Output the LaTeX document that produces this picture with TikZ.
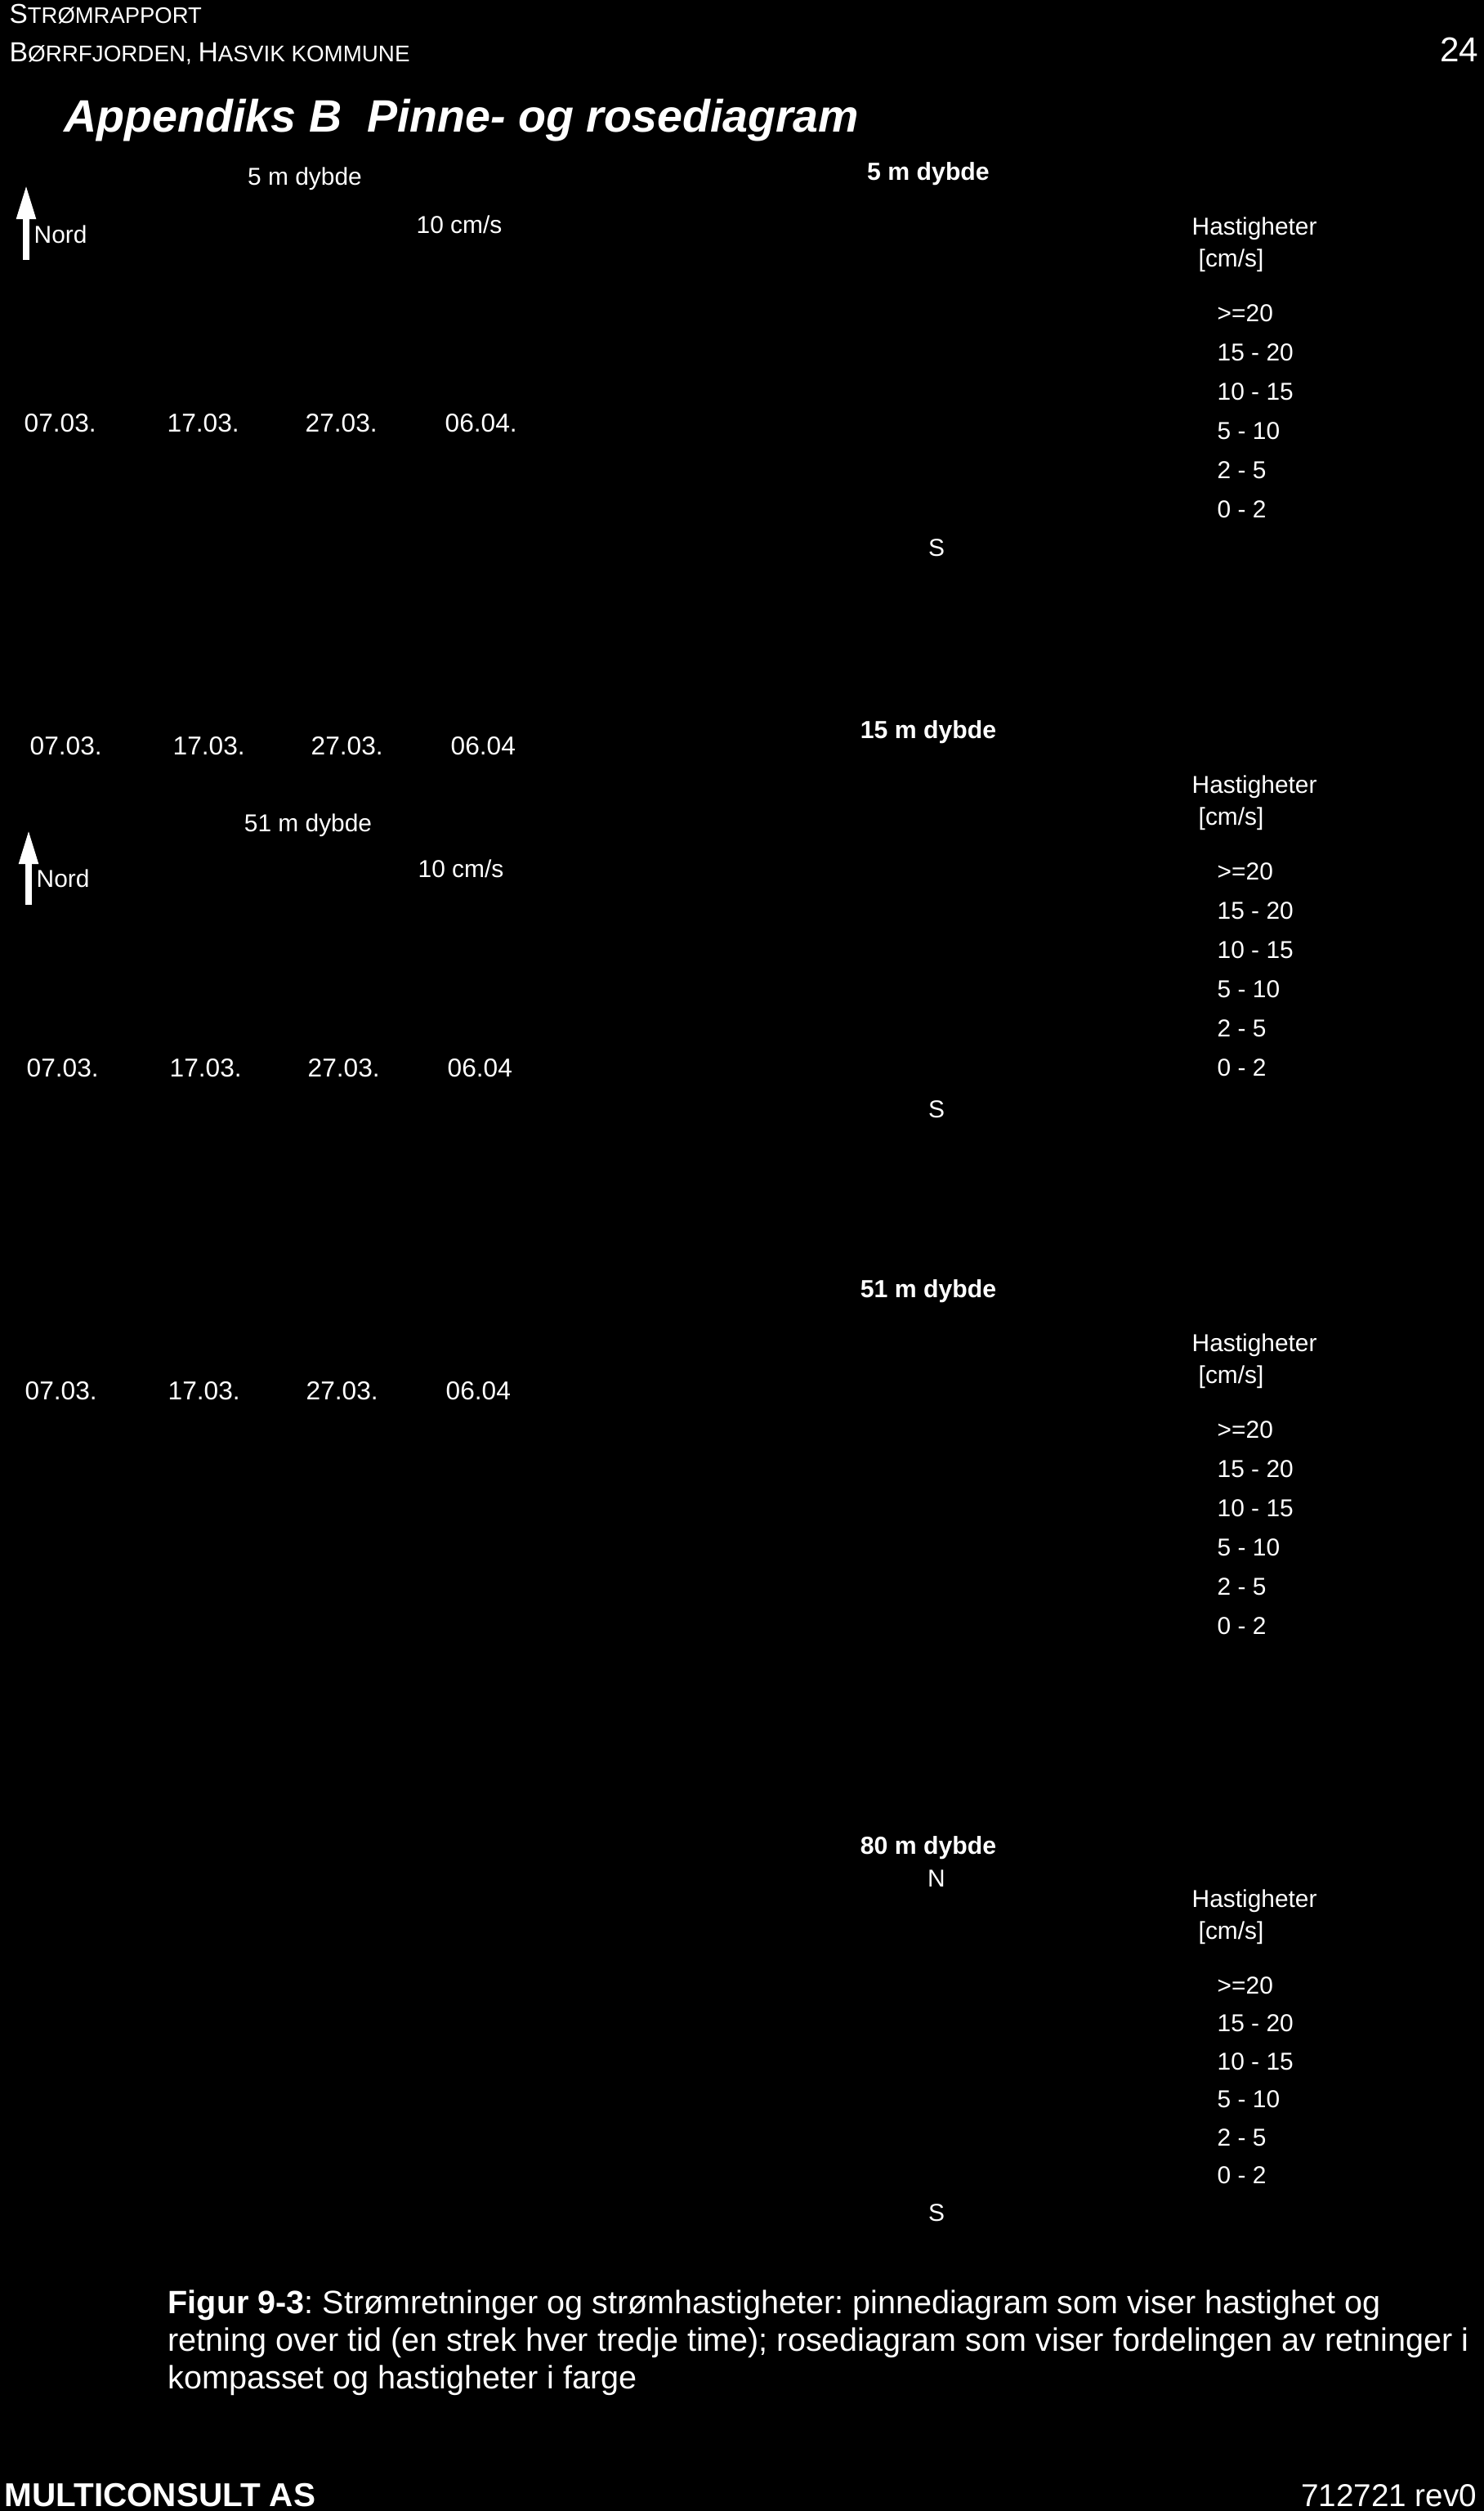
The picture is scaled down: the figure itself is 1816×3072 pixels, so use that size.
\documentclass[tikz,border=0pt]{standalone}
\usepackage{fontspec}
\setmainfont{Liberation Sans}
\usepackage{tikz}
\usetikzlibrary{arrows.meta,positioning}
\frenchspacing
\tikzset{%
	lbl/.style       = {text=white, inner sep=0pt, font=\fontsize{8.5}{10}\selectfont},
	datelbl/.style   = {lbl, anchor=base west, font=\fontsize{9}{11}\selectfont},
	rtitle/.style    = {lbl, anchor=base, font=\bfseries\fontsize{8.6}{10}\selectfont},
	leg/.style       = {lbl, anchor=base west},
	capline/.style   = {lbl, anchor=base west, font=\fontsize{11.25}{13}\selectfont},
	nordarrow/.style = {white, line width=0.08cm, -{Triangle[width=0.22cm,length=0.42cm]}},
}

\begin{document}
\begin{tikzpicture}[x=0.01cm, y=-0.01cm]
		\useasboundingbox (0,0) rectangle (1816,3072);
		\fill[black] (0,0) rectangle (1816,3072);
		
		% header
		\node[lbl, anchor=base west] (hdr1) at (11,28) {\fontsize{9.5}{11}\selectfont S\fontsize{7.8}{9}\selectfont TRØMRAPPORT};
		\node[lbl, anchor=base west] (hdr2) at (11,75) {\fontsize{9.6}{11}\selectfont B\fontsize{7.9}{9}\selectfont ØRRFJORDEN, \fontsize{9.6}{11}\selectfont H\fontsize{7.9}{9}\selectfont ASVIK KOMMUNE};
		\node[lbl, anchor=base east, font=\fontsize{12}{14}\selectfont] (pagenr) at (1810,75) {24};
		\node[lbl, anchor=base west, font=\bfseries\itshape\fontsize{15.8}{18}\selectfont] (apptitle) at (78,161) {Appendiks B\ \ Pinne- og rosediagram};
		
		% pinnediagram, left
		\node[lbl, anchor=base] (pd1) at (373,226) {5 m dybde};
		\node[lbl, anchor=base west] (scale1) at (509,285) {10 cm/s};
		\node[lbl, anchor=base west] (nord1) at (41,297) {Nord};
		\coordinate (nordtail1) at (32,318);
		\coordinate (nordtip1) at (32,226);
		\draw[nordarrow] (nordtail1) -- (nordtip1);
		
		\node[lbl, anchor=base] (pd2) at (377,1017) {51 m dybde};
		\node[lbl, anchor=base west] (scale2) at (511,1073) {10 cm/s};
		\node[lbl, anchor=base west] (nord2) at (44,1085) {Nord};
		\coordinate (nordtail2) at (35,1107);
		\coordinate (nordtip2) at (35,1015);
		\draw[nordarrow] (nordtail2) -- (nordtip2);
		
		\foreach \r/\yb/\xo/\lastd in {1/528/29/06.04., 2/923/36/06.04, 3/1317/32/06.04, 4/1712/30/06.04}
			\foreach \t/\dx [count=\i] in {07.03./0, 17.03./175, 27.03./344, \lastd/515}
				\node[datelbl] (d\r-\i) at ({\xo+\dx},\yb) {\t};
		
		% rosediagram, right
		\foreach \d/\yt/\yh/\sp in {5/220/287/48, 15/903/970/48, 51/1587/1653/48, 80/2268/2333/46.5}{
			\node[rtitle] (rt-\d) at (1136,\yt) {\d\ m dybde};
			\node[leg] (hast-\d) at (1458,\yh) {Hastigheter};
			\node[leg] (unit-\d) at (1466,{\yh+39}) {[cm/s]};
			\foreach \lab [count=\i] in {{>=20},{15 - 20},{10 - 15},{5 - 10},{2 - 5},{0 - 2}}
				\node[leg] (leg-\d-\i) at (1489,{\yh+106+\sp*(\i-1)}) {\lab};
		}
		\node[lbl, anchor=base] (s5) at (1146,680) {S};
		\node[lbl, anchor=base] (s15) at (1146,1367) {S};
		\node[lbl, anchor=base] (n80) at (1146,2308) {N};
		\node[lbl, anchor=base] (s80) at (1146,2717) {S};
		
		% caption and footer
		\node[capline] (cap1) at (205,2830) {\textbf{Figur 9-3}: Strømretninger og strømhastigheter: pinnediagram som viser hastighet og};
		\node[capline] (cap2) at (205,2876) {retning over tid (en strek hver tredje time); rosediagram som viser fordelingen av retninger i};
		\node[capline] (cap3) at (205,2922) {kompasset og hastigheter i farge};
		\node[lbl, anchor=base west, font=\bfseries\fontsize{11.5}{13}\selectfont] (firm) at (5,3066) {MULTICONSULT AS};
		\node[lbl, anchor=base east, font=\fontsize{11}{13}\selectfont] (docnr) at (1808,3066) {712721 rev0};
\end{tikzpicture}
\end{document}
